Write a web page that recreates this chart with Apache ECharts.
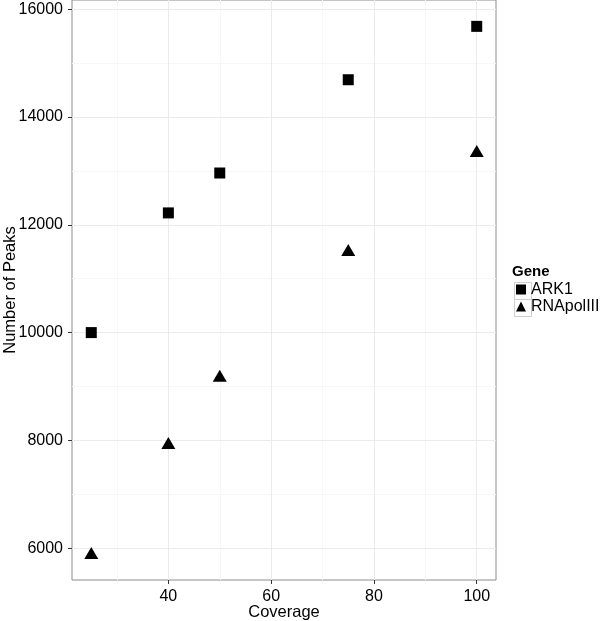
<!DOCTYPE html>
<html>
<head>
<meta charset="utf-8">
<script src="https://cdn.jsdelivr.net/npm/echarts@6/dist/echarts.min.js"></script>
<style>
  html, body { margin: 0; padding: 0; background: #fff; }
  #chart { width: 600px; height: 621px; }
</style>
</head>
<body>
<div id="chart"></div>
<script>
const coverage = [25, 40, 50, 75, 100];
const ark1 = [10000, 12220, 12960, 14690, 15680];
const rnapol = [5910, 7950, 9200, 11530, 13370];
const xTicks = [40, 60, 80, 100];
const xMinor = [30, 50, 70, 90];
const yTicks = [6000, 8000, 10000, 12000, 14000, 16000];
const yMinor = [7000, 9000, 11000, 13000, 15000];

const font = 'Liberation Sans, Arial, sans-serif';
const major = '#ebebeb';
const minor = '#f7f7f7';

// panel grid lines (major at ticks, faint minor in between)
function gridLines() {
  const d = [];
  xMinor.forEach(v => d.push({ xAxis: v, lineStyle: { color: minor } }));
  yMinor.forEach(v => d.push({ yAxis: v, lineStyle: { color: minor } }));
  xTicks.forEach(v => d.push({ xAxis: v, lineStyle: { color: major } }));
  yTicks.forEach(v => d.push({ yAxis: v, lineStyle: { color: major } }));
  return d;
}

const chart = echarts.init(document.getElementById('chart'));
chart.setOption({
  animation: false,
  textStyle: { fontFamily: font },
  grid: {
    left: 72, top: 0, right: 104, bottom: 41,
    containLabel: false, outerBoundsMode: 'none',
    show: true, borderColor: '#8c8c8c', borderWidth: 1, backgroundColor: '#fff'
  },
  title: {
    text: 'Gene', left: 512, top: 264, padding: 0,
    textStyle: { fontSize: 15, fontWeight: 'bold', color: '#000', fontFamily: font }
  },
  legend: {
    orient: 'vertical', left: 516, top: 281, padding: 0,
    itemWidth: 10, itemHeight: 10, itemGap: 0,
    textStyle: { fontSize: 16, lineHeight: 17, color: '#000' },
    data: [
      { name: 'ARK1', icon: 'rect' },
      { name: 'RNApolIII', icon: 'triangle' }
    ]
  },
  graphic: [
    { type: 'rect', left: 512, top: 280, shape: { width: 17, height: 17 }, style: { fill: 'none', stroke: '#cfcfcf' } },
    { type: 'rect', left: 512, top: 297, shape: { width: 17, height: 17 }, style: { fill: 'none', stroke: '#cfcfcf' } }
  ],
  xAxis: {
    type: 'value', min: 21.25, max: 103.75,
    name: 'Coverage', nameLocation: 'middle', nameGap: 24, nameMoveOverlap: false,
    nameTextStyle: { fontSize: 16.5, color: '#000', verticalAlign: 'top' },
    axisLine: { show: false },
    splitLine: { show: false },
    axisTick: { show: true, length: 4, lineStyle: { color: '#333' }, customValues: xTicks },
    axisLabel: { fontSize: 16, color: '#000', margin: 9, customValues: xTicks, formatter: v => String(v) }
  },
  yAxis: {
    type: 'value', min: 5411, max: 16169,
    name: 'Number of Peaks', nameLocation: 'middle', nameGap: 53, nameRotate: 90, nameMoveOverlap: false,
    nameTextStyle: { fontSize: 16.5, color: '#000' },
    axisLine: { show: false },
    splitLine: { show: false },
    axisTick: { show: true, length: 4, lineStyle: { color: '#333' }, customValues: yTicks },
    axisLabel: { fontSize: 16, color: '#000', margin: 9, customValues: yTicks, formatter: v => String(v) }
  },
  series: [
    {
      name: 'ARK1', type: 'scatter', symbol: 'rect', symbolSize: 11,
      itemStyle: { color: '#000', opacity: 1 },
      data: coverage.map((c, i) => [c, ark1[i]]),
      z: 3,
      markLine: {
        silent: true, symbol: 'none', label: { show: false },
        lineStyle: { type: 'solid', width: 1 },
        emphasis: { disabled: true },
        data: gridLines(), z: 1
      }
    },
    {
      name: 'RNApolIII', type: 'scatter', symbol: 'triangle', symbolSize: [14, 12],
      itemStyle: { color: '#000', opacity: 1 },
      data: coverage.map((c, i) => [c, rnapol[i]]),
      z: 3
    }
  ]
});
</script>
</body>
</html>
